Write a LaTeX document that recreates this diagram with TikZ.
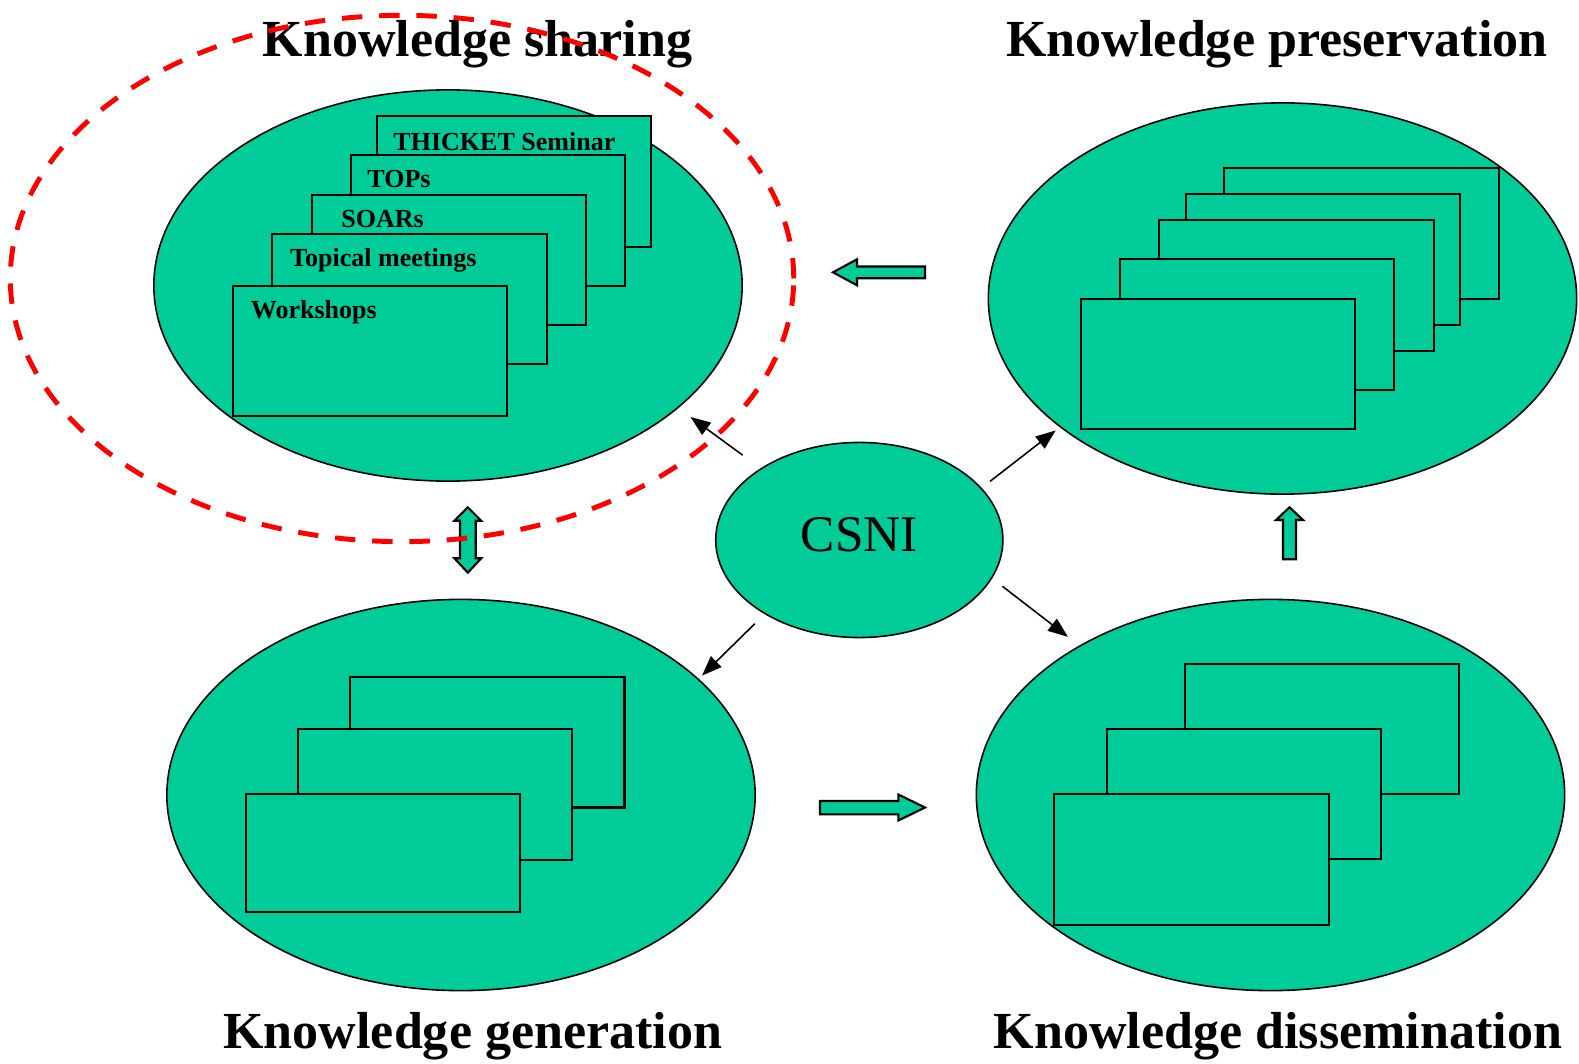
\documentclass[tikz,border=0pt]{standalone}
\usepackage{fontspec}
\setmainfont{Liberation Serif}
\usepackage{tikz}
\usetikzlibrary{shapes.geometric, arrows.meta}

\definecolor{kmgreen}{RGB}{0,204,153}
\definecolor{kmred}{RGB}{255,0,0}

\begin{document}
\begin{tikzpicture}[x=0.01cm, y=-0.01cm,
	area/.style={ellipse, draw, fill=kmgreen, line width=0.45pt, inner sep=0pt, outer sep=0pt, minimum width=5.88cm, minimum height=3.91cm},
	card/.style={rectangle, draw, fill=kmgreen, line width=0.6pt, inner sep=0pt, outer sep=0pt, minimum width=2.74cm, minimum height=1.305cm},
	cardtext/.style={anchor=base west, inner sep=0pt, font=\fontsize{7.4}{8}\selectfont\bfseries},
	title/.style={anchor=base, inner sep=0pt, font=\fontsize{14.8}{16}\selectfont\bfseries},
	link/.style={-{Triangle[length=0.2cm, width=0.15cm]}, line width=0.45pt},
	fat/.style={draw, fill=kmgreen, line width=0.6pt, line join=miter}]
	\useasboundingbox (0,0) rectangle (1579,1064);

	% the four areas and the committee
	\node[area] (share) at (448,285.5) {};
	\node[area] (pres)  at (1282.5,298.5) {};
	\node[area] (gen)   at (461,795) {};
	\node[area] (diss)  at (1270.5,795) {};
	\node[area, minimum width=2.87cm, minimum height=1.95cm, text depth=0.1cm, font=\fontsize{14.6}{16}\selectfont] (csni) at (859.3,540) {CSNI};

	% sharing
	\node[card] (ks5) at (513.8,181.3) {};
	\node[card] (ks4) at (487.8,220.7) {};
	\node[card] (ks3) at (448.8,260) {};
	\node[card] (ks2) at (409.5,299) {};
	\node[card] (ks1) at (370.3,351) {};
	\node[cardtext] (ls5) at ([shift={(16,34)}]ks5.north west) {THICKET Seminar};
	\node[cardtext] (ls4) at ([shift={(16,32.5)}]ks4.north west) {TOPs};
	\node[cardtext] (ls3) at ([shift={(29,32.3)}]ks3.north west) {SOARs};
	\node[cardtext] (ls2) at ([shift={(17,32.7)}]ks2.north west) {Topical meetings};
	\node[cardtext] (ls1) at ([shift={(17,32.3)}]ks1.north west) {Workshops};

	% preservation
	\node[card] (kp5) at (1361.5,233.7) {};
	\node[card] (kp4) at (1322.7,259.7) {};
	\node[card] (kp3) at (1296.5,285.7) {};
	\node[card] (kp2) at (1257.3,324.7) {};
	\node[card] (kp1) at (1218.2,364) {};

	% generation
	\node[card] (kg3) at (487.4,742.2) {};
	\node[card] (kg2) at (435,794.5) {};
	\node[card, minimum height=1.18cm] (kg1) at (383.2,853.4) {};

	% dissemination
	\node[card] (kd3) at (1322,729) {};
	\node[card] (kd2) at (1243.7,794) {};
	\node[card] (kd1) at (1191.5,859.5) {};

	% block arrows
	\draw[fat] (833,272.3) -- (857,259.3) -- (857,266.5) -- (925,266.5) -- (925,278.3) -- (857,278.3) -- (857,285.3) -- cycle;
	\draw[fat] (925,807.5) -- (898.3,794.5) -- (898.3,801) -- (820,801) -- (820,814.3) -- (898.3,814.3) -- (898.3,820.5) -- cycle;
	\draw[fat] (1289.5,507.3) -- (1303,520) -- (1296,520) -- (1296,559.3) -- (1283,559.3) -- (1283,520) -- (1276,520) -- cycle;
	\draw[fat] (467.8,507.3) -- (481.2,520.7) -- (475.7,520.7) -- (475.7,558.3) -- (481.2,558.3) -- (467.8,572.7)
		-- (454.4,558.3) -- (460,558.3) -- (460,520.7) -- (454.4,520.7) -- cycle;

	% from the committee
	\draw[link, shorten <=0.23cm, shorten >=0.158cm] (csni.144) -- (share.-28);
	\draw[link, shorten <=0.113cm, shorten >=0.059cm] (csni.23) -- (pres.210);
	\draw[link, shorten <=0.136cm, shorten >=0.15cm] (csni.-16) -- (diss.142);
	\draw[link, shorten <=0.144cm, shorten >=0.053cm] (csni.218) -- (gen.26);

	\node[title] (t1) at (477.5,56.7) {Knowledge sharing};
	\node[title] (t2) at (1277,56.7) {Knowledge preservation};
	\node[title] (t3) at (472.8,1048) {Knowledge generation};
	\node[title] (t4) at (1278,1048) {Knowledge dissemination};

	\node[ellipse, draw=kmred, line width=1.4pt, dash pattern=on 5.8pt off 4.8pt, inner sep=0pt, outer sep=0pt,
		minimum width=7.83cm, minimum height=5.26cm] (focus) at (402,278.5) {};
\end{tikzpicture}
\end{document}
